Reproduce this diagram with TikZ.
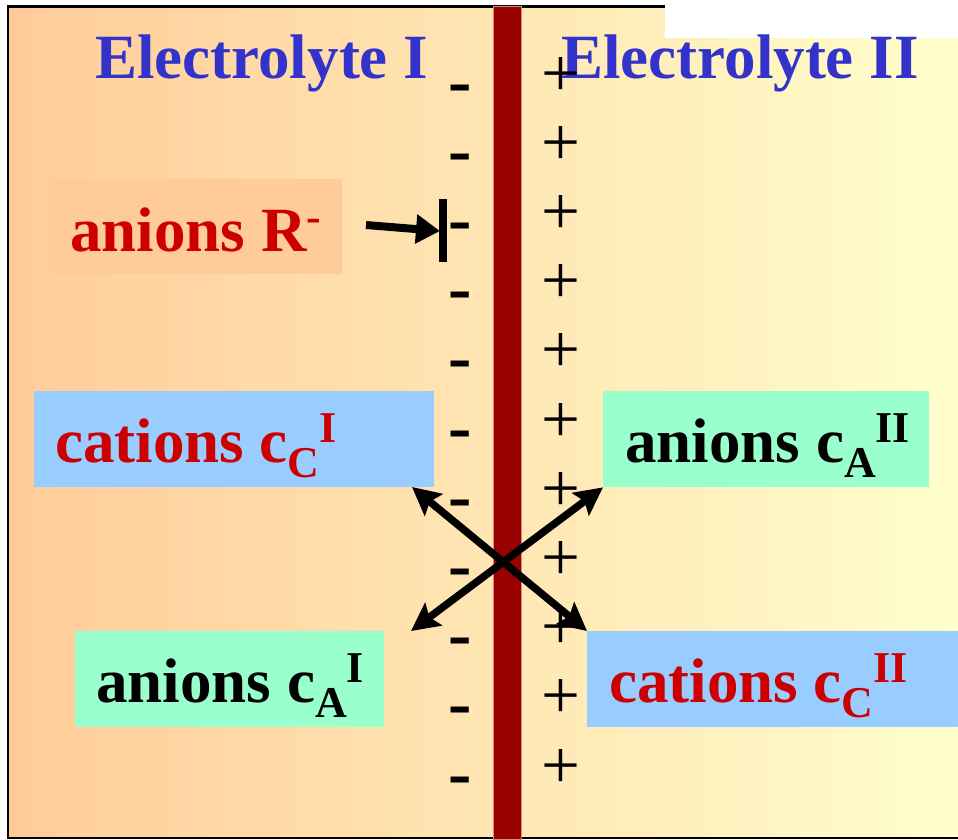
\documentclass[tikz,border=0pt]{standalone}
\usepackage{fontspec}
\setmainfont{Liberation Serif}
\usetikzlibrary{arrows.meta}
\definecolor{hdrblue}{HTML}{3333CC}
\definecolor{labred}{HTML}{CC0000}
\definecolor{membr}{HTML}{990000}
\definecolor{membedge}{HTML}{D09080}
\definecolor{bgleft}{HTML}{FFCC99}
\definecolor{bgright}{HTML}{FFFFCC}
\definecolor{boxblue}{HTML}{99CCFF}
\definecolor{boxgreen}{HTML}{99FFCC}
\definecolor{boxpeach}{HTML}{FFCC99}
\newcommand\bigtxt{\fontsize{63}{70}\selectfont\bfseries}
\newcommand\smalltxt{\fontsize{44}{50}\selectfont\bfseries}
\newcommand\lowidx[1]{\raisebox{-15pt}{\smalltxt #1}}
\newcommand\highidx[1]{\raisebox{20pt}{\smalltxt #1}}
\begin{document}
\begin{tikzpicture}[x=1pt,y=-1pt,
  lbox/.style={rectangle, inner sep=0pt, anchor=north west},
  ltext/.style={anchor=base west, inner sep=0pt, font=\bigtxt},
  hdr/.style={anchor=base west, inner sep=0pt, font=\bigtxt, text=hdrblue},
  minussign/.style={anchor=base, inner sep=0pt, font=\fontsize{70}{70}\selectfont\bfseries},
  plussign/.style={anchor=base, inner sep=0pt, font=\fontsize{69}{69}\selectfont},
  flux/.style={line width=7.5pt, arrows={Stealth[length=28pt,width=28pt,inset=5pt]-Stealth[length=28pt,width=28pt,inset=5pt]}},
]
\fill[white] (0,0) rectangle (958,839);
\useasboundingbox (0,0) rectangle (958,839);
% background gradient and frame
\shade[left color=bgleft, right color=bgright] (8,6.5) rectangle (958,838);
\draw[line width=2.2pt] (958,838) -- (8,838) -- (8,6.5) -- (958,6.5);
% membrane
\fill[membr, draw=membedge, line width=0.8pt] (493,6.5) rectangle (521,839);
% white patch at top right
\fill[white] (665,0) rectangle (958,38);
% headers
\node[hdr] (h1) at (95,78) {Electrolyte I};
\node[hdr] (h2) at (561,78) {Electrolyte II};
% boxes
\node[lbox, fill=boxpeach, minimum width=297pt, minimum height=95pt] (rbox) at (45,179) {};
\node[lbox, fill=boxblue, minimum width=400pt, minimum height=96pt] (cc1) at (34,391) {};
\node[lbox, fill=boxgreen, minimum width=326pt, minimum height=96pt] (ca2) at (603,391) {};
\node[lbox, fill=boxgreen, minimum width=309pt, minimum height=96pt] (ca1) at (75,631) {};
\node[lbox, fill=boxblue, minimum width=372pt, minimum height=96pt] (cc2) at (587,631) {};
% labels
\node[ltext, text=labred] (rtxt) at (70,251) {anions R\highidx{-}};
\node[ltext, text=labred] (cc1txt) at (55,462) {cations c\lowidx{C}\highidx{I}};
\node[ltext, text=black] (ca2txt) at (625,462) {anions c\lowidx{A}\highidx{II}};
\node[ltext, text=black] (ca1txt) at (96,702) {anions c\lowidx{A}\highidx{I}};
\node[ltext, text=labred] (cc2txt) at (609,702) {cations c\lowidx{C}\highidx{II}};
% charges
\foreach \i in {0,...,10} {
  \node[minussign] (m\i) at (460.5, 88+69.2*\i+16) {-};
  \node[plussign] (p\i) at (560.5, 78.5+69.2*\i+17.5) {+};
}
% R- arrow and bar
\coordinate (bartop) at (443,199);
\coordinate (barbot) at (443,262);
\draw[line width=8pt] (bartop) -- (barbot);
\coordinate (rtail) at (366,225);
\coordinate (rtip) at (440,231);
\draw[line width=8pt, -{Triangle[length=24pt,width=28pt]}] (rtail) -- (rtip);
% crossing fluxes
\coordinate (x1a) at (412,487);
\coordinate (x2b) at (411,631);
\draw[flux] (x1a) -- (cc2.north west);
\draw[flux] (ca2.south west) -- (x2b);
\end{tikzpicture}
\end{document}
